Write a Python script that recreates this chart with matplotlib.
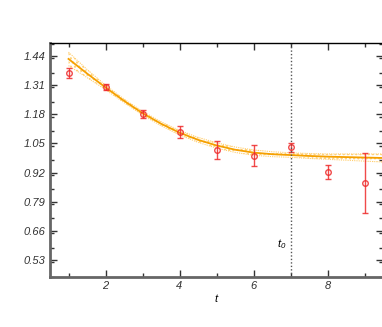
import numpy as np
import matplotlib
matplotlib.use("Agg")
import matplotlib.pyplot as plt
from matplotlib.ticker import MultipleLocator

plt.rcParams["mathtext.fontset"] = "custom"
plt.rcParams["mathtext.it"] = "Liberation Sans:italic"
plt.rcParams["mathtext.rm"] = "Liberation Sans:italic"

# data points (red, with errors)
t_pts = [1, 2, 3, 4, 5, 6, 7, 8, 9]
y_pts = [1.364, 1.301, 1.180, 1.099, 1.019, 0.996, 1.032, 0.924, 0.875]
y_err = [0.022, 0.013, 0.018, 0.027, 0.040, 0.048, 0.022, 0.031, 0.134]

# fit curve and its error band
t_fit = [1.0, 1.5, 2.0, 2.5, 3.0, 3.5, 4.0, 4.5, 5.0, 5.5, 6.0, 6.5, 7.0, 7.5, 8.0, 8.5, 9.0, 9.5]
y_fit = [1.427, 1.362, 1.300, 1.240, 1.185, 1.138, 1.098, 1.066, 1.041, 1.022, 1.009, 1.002, 0.998, 0.994, 0.991, 0.989, 0.987, 0.985]
w_fit = [0.030, 0.018, 0.010, 0.008, 0.008, 0.009, 0.010, 0.011, 0.012, 0.012, 0.012, 0.011, 0.010, 0.011, 0.012, 0.014, 0.016, 0.018]

t0 = 7
yticks = [0.53, 0.66, 0.79, 0.92, 1.05, 1.18, 1.31, 1.44]

ORANGE = "#f5a000"
BAND = "#ffcf70"
RED = "#ee2a2a"

fig = plt.figure(figsize=(3.82, 3.27), dpi=100)
ax = fig.add_axes([50/382, 1 - 277/327, 333/382, 234/327])

tf = np.array(t_fit)
yf = np.array(y_fit)
wf = np.array(w_fit)
ax.fill_between(tf, yf - wf, yf + wf, facecolor="none", edgecolor=BAND,
                hatch="....", linewidth=0)
for frac in (-1.0, 1.0):
    ax.plot(tf, yf + frac * wf, color=BAND, lw=0.8, ls=(0, (1, 1)))
ax.plot(tf, yf, color=ORANGE, lw=1.3)

ax.errorbar(t_pts, y_pts, yerr=y_err, fmt="o", ms=4, mfc="none", mec=RED,
            mew=1.0, ecolor=RED, elinewidth=1.0, capsize=2, capthick=1.0, alpha=0.85)

ax.axvline(t0, color="#555555", lw=1.0, ls=(0, (1, 1.5)))
ax.text(t0 - 0.12, 0.60, r"$t_0$", ha="right", va="center", fontsize=8)

ax.set_xlim(0.5, 9.5)
ax.set_ylim(0.454, 1.498)
ax.xaxis.set_major_locator(MultipleLocator(2))
ax.xaxis.set_minor_locator(MultipleLocator(1))
ax.set_yticks(yticks)
ax.yaxis.set_minor_locator(MultipleLocator(0.065))
ax.set_yticklabels([f"{v:.2f}" for v in yticks])

for lbl in ax.get_xticklabels() + ax.get_yticklabels():
    lbl.set_fontstyle("italic")
    lbl.set_fontfamily("Liberation Sans")
    lbl.set_fontsize(8)
    lbl.set_color("#222222")
ax.set_xlabel("t", fontstyle="italic", fontfamily="Liberation Sans", fontsize=8, labelpad=2)

ax.tick_params(which="both", direction="in", top=True, right=True, colors="#333333")
ax.tick_params(which="major", length=5, width=1.0, pad=3)
ax.tick_params(which="minor", length=3, width=1.0)

ax.spines["left"].set_color("#666666")
ax.spines["left"].set_linewidth(2)
ax.spines["bottom"].set_color("#666666")
ax.spines["bottom"].set_linewidth(2)
ax.spines["top"].set_linewidth(1)
ax.spines["right"].set_linewidth(1)

fig.savefig("out.png", dpi=100)
